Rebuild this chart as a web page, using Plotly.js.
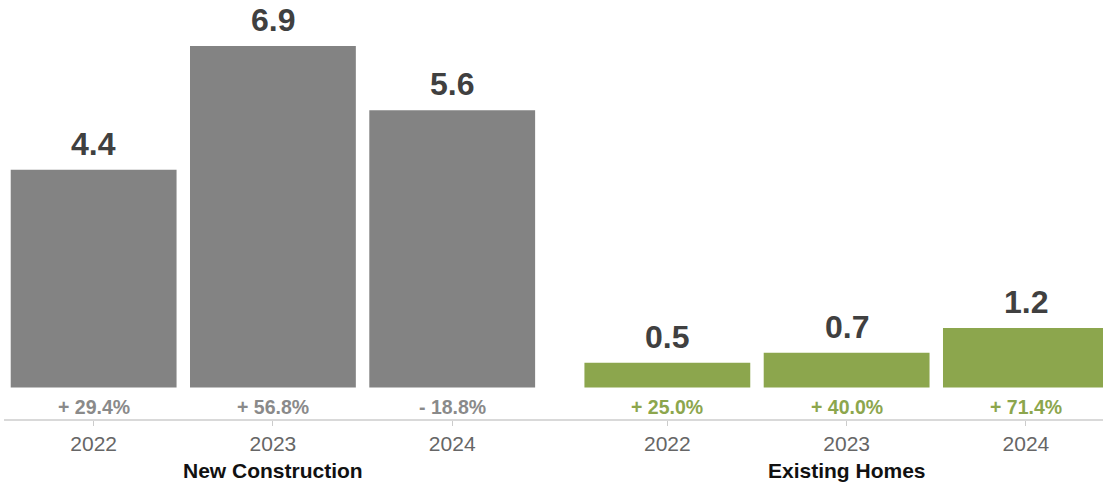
<!DOCTYPE html>
<html>
<head>
<meta charset="utf-8">
<script src="https://cdn.plot.ly/plotly-3.0.1.min.js"></script>
<style>html,body{margin:0;padding:0;background:#fff;}#chart{width:1103px;height:485px;}</style>
</head>
<body>
<div id="chart"></div>
<script>
const groups = ['New Construction', 'Existing Homes'];
const years = ['2022', '2023', '2024'];
const newConstruction = [4.4, 6.9, 5.6];
const existingHomes = [0.5, 0.7, 1.2];
const newConstructionChange = ['+ 29.4%', '+ 56.8%', '- 18.8%'];
const existingHomesChange = ['+ 25.0%', '+ 40.0%', '+ 71.4%'];

const seriesValues = [newConstruction, existingHomes];
const seriesChanges = [newConstructionChange, existingHomesChange];
const barColors = ['#838383', '#8ca64d'];
const changeColors = ['#8a8a8a', '#8ca64d'];
const groupStep = 3.2;
const FONT = 'Liberation Sans, Arial, Helvetica, sans-serif';

const traces = [];
const annotations = [];
const tickvals = [];
const ticktext = [];

groups.forEach((g, gi) => {
  const xs = years.map((y, i) => gi * groupStep + i);
  xs.forEach((x, i) => { tickvals.push(x); ticktext.push(years[i]); });
  traces.push({
    type: 'bar',
    name: g,
    x: xs,
    y: seriesValues[gi],
    width: 0.925,
    marker: {color: barColors[gi], line: {width: 0}},
    hoverinfo: 'skip',
    showlegend: false
  });
  xs.forEach((x, i) => {
    annotations.push({
      x: x, y: seriesValues[gi][i], xref: 'x', yref: 'y',
      text: seriesValues[gi][i].toFixed(1),
      showarrow: false, yanchor: 'middle', yshift: 26,
      font: {family: FONT, size: 32, color: '#404040', weight: 'bold'}
    });
    annotations.push({
      x: x, y: 0, xref: 'x', yref: 'y',
      text: '<b>' + seriesChanges[gi][i] + '</b>',
      showarrow: false, yanchor: 'middle', yshift: -19,
      font: {family: FONT, size: 19.5, color: changeColors[gi]}
    });
  });
  annotations.push({
    x: xs[1], y: 0, xref: 'x', yref: 'paper',
    text: '<b>' + g + '</b>',
    showarrow: false, yanchor: 'middle', yshift: -51,
    font: {family: FONT, size: 21, color: '#111111'}
  });
});

const layout = {
  width: 1103, height: 485,
  margin: {l: 4, r: 0, t: 0, b: 66},
  paper_bgcolor: '#ffffff', plot_bgcolor: '#ffffff',
  font: {family: FONT},
  xaxis: {
    type: 'linear', range: [-0.5, 5.63],
    tickmode: 'array', tickvals: tickvals, ticktext: ticktext,
    ticks: 'outside', ticklen: 5, tickcolor: '#cccccc', tickwidth: 1,
    showline: true, linecolor: '#d9d9d9', linewidth: 2,
    showgrid: false, zeroline: false,
    tickfont: {family: FONT, size: 21, color: '#666666'},
    fixedrange: true
  },
  yaxis: {
    range: [-0.636, 7.828], visible: false, showgrid: false, zeroline: false, fixedrange: true
  },
  annotations: annotations,
  showlegend: false
};

Plotly.newPlot('chart', traces, layout, {displayModeBar: false, staticPlot: true});
</script>
</body>
</html>
